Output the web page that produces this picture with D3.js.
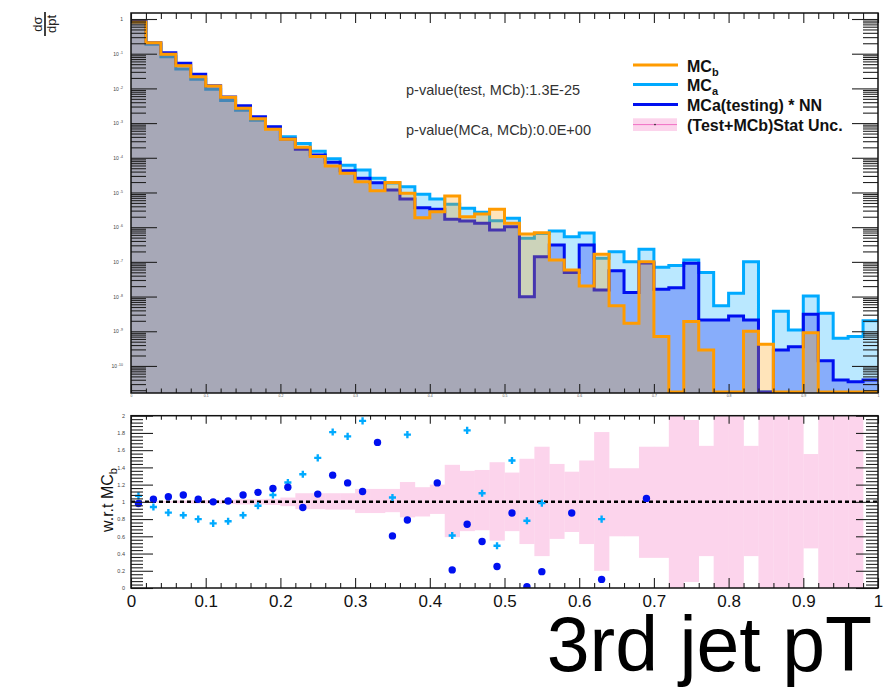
<!DOCTYPE html>
<html>
<head>
<meta charset="utf-8">
<script src="https://cdn.jsdelivr.net/npm/d3@7"></script>
<style>
  body { margin: 0; background: #fff; }
  text { font-family: "Liberation Sans", Arial, Helvetica, sans-serif; }
</style>
</head>
<body>
<div id="chart"></div>
<script>
// 50 bins of 3rd jet pT (normalised), width 0.02
const binEdges = d3.range(51).map(i => i / 50);

// dsigma/dpT per bin
const mcb = [0.82, 0.207, 0.096, 0.045, 0.0217, 0.0117, 0.00554, 0.00267, 0.00134, 6.6e-4,
  3.4e-4, 2.0e-4, 1.08e-4, 5.8e-5, 3.6e-5, 2.05e-5, 1.13e-5, 1.95e-5, 9.5e-6, 1.88e-6,
  2.8e-6, 7.9e-6, 2.0e-6, 2.4e-6, 3.3e-6, 1.29e-6, 6.4e-7, 6.9e-7, 1.13e-7, 5.8e-8,
  2.0e-8, 1.66e-7, 5.4e-9, 1.7e-9, 1.0e-7, 7.0e-10, 0, 1.9e-9, 2.9e-10, 0,
  0, 1.0e-9, 4.2e-10, 0, 0, 9.1e-10, 0, 0, 0, 0];
const mca = [0.86, 0.187, 0.082, 0.036, 0.0183, 0.0094, 0.0045, 0.00234, 0.0012, 7.6e-4,
  4.06e-4, 2.6e-4, 1.54e-4, 9.4e-5, 6.1e-5, 4.45e-5, 2.56e-5, 1.88e-5, 1.47e-5, 8.9e-6,
  6.5e-6, 4.6e-6, 3.5e-6, 2.7e-6, 1.54e-6, 1.8e-6, 4.8e-7, 6.6e-7, 7.8e-7, 5.3e-7,
  6.8e-7, 1.27e-7, 1.97e-7, 1.01e-7, 2.3e-7, 7.0e-8, 7.8e-8, 1.13e-7, 4.9e-8, 5.4e-9,
  1.24e-8, 1.0e-7, 0, 3.8e-9, 1.09e-9, 1.04e-8, 3.3e-9, 6.3e-10, 7.0e-10, 2.0e-9];
const mcaNN = [0.88, 0.207, 0.107, 0.053, 0.0255, 0.012, 0.00565, 0.00315, 0.00152, 7.9e-4,
  3.5e-4, 1.76e-4, 1.2e-4, 7.4e-5, 4.25e-5, 2.56e-5, 1.92e-5, 1.18e-5, 6.5e-6, 3.65e-6,
  3.3e-6, 1.69e-6, 1.51e-6, 1.29e-6, 8.3e-7, 1.03e-6, 9.9e-9, 1.41e-7, 3.07e-7, 4.9e-8,
  3.07e-7, 1.55e-8, 5.5e-8, 1.3e-8, 9.3e-8, 1.62e-8, 1.8e-8, 9.1e-8, 2.1e-9, 2.1e-9,
  2.76e-9, 2.1e-9, 0, 2.9e-10, 3.6e-10, 3.1e-9, 1.42e-10, 3.95e-11, 3.5e-11, 3.95e-11];

// ratios w.r.t MCb (null = outside 0..2)
const ratioNN = [0.98, 1.03, 1.06, 1.08, 1.03, 1.0, 1.01, 1.08, 1.11, 1.156,
  1.17, 0.935, 1.09, 1.31, 1.22, 1.12, 1.69, 0.605, 0.79, null,
  1.22, 0.21, 0.74, 0.54, 0.25, 0.87, 0.015, 0.19, null, 0.87,
  null, 0.10, null, null, 1.04, null, null, null, null, null,
  null, null, null, null, null, null, null, null, null, null];
const ratioMCa = [1.07, 0.94, 0.875, 0.845, 0.80, 0.75, 0.775, 0.845, 0.955, 1.08,
  1.225, 1.32, 1.51, 1.81, 1.76, 1.94, null, 1.05, 1.78, null,
  null, 0.61, 1.83, 1.10, 0.49, 1.48, 0.78, 0.985, null, null,
  null, 0.80, null, null, null, null, null, null, null, null,
  null, null, null, null, null, null, null, null, null, null];

// (Test+MCb) stat. uncertainty band, low / high edge per bin
const uncLow = [0.995, 0.99, 0.99, 0.985, 0.98, 0.98, 0.975, 0.97, 0.97, 0.965,
  0.95, 0.915, 0.915, 0.91, 0.91, 0.87, 0.87, 0.88, 0.82, 0.83,
  0.86, 0.59, 0.66, 0.67, 0.55, 0.66, 0.51, 0.37, 0.57, 0.65,
  0.51, 0.20, 0.60, 0.60, 0.35, 0.35, 0, 0.07, 0.37, 0,
  0, 0.37, 0, 0, 0, 0.46, 0, 0, 0, null];
const uncHigh = [1.005, 1.01, 1.01, 1.015, 1.02, 1.02, 1.025, 1.03, 1.03, 1.035,
  1.05, 1.10, 1.10, 1.10, 1.10, 1.15, 1.15, 1.15, 1.23, 1.17,
  1.20, 1.43, 1.36, 1.37, 1.46, 1.34, 1.50, 1.64, 1.44, 1.35,
  1.48, 1.81, 1.39, 1.39, 1.64, 1.64, 2, 1.95, 1.65, 2,
  2, 1.65, 2, 2, 2, 1.555, 2, 2, 2, null];

const xMajor = d3.range(11).map(i => i / 10);
const xMinor = d3.range(51).map(i => i / 50).filter((d, i) => i % 5 !== 0);

const width = 884, height = 687;
const L = 131, R = 878;
const T1 = 13, B1 = 393;     // upper pad
const T2 = 415.7, B2 = 588;  // ratio pad

const cOrange = "#ff9b00", cLight = "#00aaff", cBlue = "#0010f0", cPink = "#fcd4ec";

const svg = d3.select("#chart").append("svg")
  .attr("width", width).attr("height", height);

const x = d3.scaleLinear().domain([0, 1]).range([L, R]);
const y = d3.scaleLog().domain([1.66e-11, 1.49]).range([B1, T1]);
const yr = d3.scaleLinear().domain([0, 2]).range([B2, T2]);

svg.append("clipPath").attr("id", "clipTop")
  .append("rect").attr("x", L).attr("y", T1).attr("width", R - L).attr("height", B1 - T1);
svg.append("clipPath").attr("id", "clipBot")
  .append("rect").attr("x", L).attr("y", T2).attr("width", R - L).attr("height", B2 - T2);

// ---------- upper pad: histograms ----------
const hg = svg.append("g").attr("clip-path", "url(#clipTop)");

function drawHist(vals, color) {
  const pts = [];
  vals.forEach((v, i) => {
    pts.push([binEdges[i], v]);
    pts.push([binEdges[i + 1], v]);
  });
  const yv = v => v > 0 ? y(v) : B1 - 1;
  hg.append("path").datum(pts)
    .attr("d", d3.area().x(d => x(d[0])).y0(B1).y1(d => yv(d[1])))
    .attr("fill", color).attr("fill-opacity", 0.27);
  hg.append("path").datum(pts)
    .attr("d", d3.line().x(d => x(d[0])).y(d => yv(d[1])))
    .attr("fill", "none").attr("stroke", color).attr("stroke-width", 3);
}
drawHist(mca, cLight);
drawHist(mcaNN, cBlue);
drawHist(mcb, cOrange);

// axes upper pad
const logMajor = d3.range(-10, 1).map(e => Math.pow(10, e));
const logMinor = [];
for (let e = -11; e < 0; e++) {
  for (let m = 2; m < 10; m++) {
    const v = m * Math.pow(10, e);
    if (v >= 1.66e-11 && v <= 1.49) logMinor.push(v);
  }
}

function styleAxis(g) {
  g.select(".domain").remove();
  g.selectAll(".tick line").attr("stroke", "#222").attr("stroke-width", 1.1);
}

svg.append("g").attr("transform", `translate(${L},0)`)
  .call(d3.axisLeft(y).tickValues(logMajor).tickSizeInner(-26).tickSizeOuter(0).tickPadding(8).tickFormat(""))
  .call(styleAxis)
  .call(g => g.selectAll(".tick text").each(function(d) {
    const t = d3.select(this).attr("font-size", 5).attr("fill", "#444");
    const e = Math.round(Math.log10(d));
    if (e === 0) { t.text("1"); return; }
    t.append("tspan").text("10");
    t.append("tspan").attr("dy", -2).attr("font-size", 3.5).text(" " + e);
  }));
svg.append("g").attr("transform", `translate(${L},0)`)
  .call(d3.axisLeft(y).tickValues(logMinor).tickSizeInner(-15).tickSizeOuter(0).tickFormat(""))
  .call(styleAxis);
svg.append("g").attr("transform", `translate(${R},0)`)
  .call(d3.axisRight(y).tickValues(logMajor).tickSizeInner(-26).tickSizeOuter(0).tickFormat(""))
  .call(styleAxis);
svg.append("g").attr("transform", `translate(${R},0)`)
  .call(d3.axisRight(y).tickValues(logMinor).tickSizeInner(-15).tickSizeOuter(0).tickFormat(""))
  .call(styleAxis);

svg.append("g").attr("transform", `translate(0,${B1})`)
  .call(d3.axisBottom(x).tickValues(xMajor).tickSizeInner(-9).tickSizeOuter(0).tickPadding(2).tickFormat(d3.format("")))
  .call(styleAxis)
  .call(g => g.selectAll(".tick text").attr("font-size", 3.5).attr("fill", "#555"));
svg.append("g").attr("transform", `translate(0,${B1})`)
  .call(d3.axisBottom(x).tickValues(xMinor).tickSizeInner(-4.5).tickSizeOuter(0).tickFormat(""))
  .call(styleAxis);
svg.append("g").attr("transform", `translate(0,${T1})`)
  .call(d3.axisTop(x).tickValues(xMajor).tickSizeInner(-10).tickSizeOuter(0).tickFormat(""))
  .call(styleAxis);
svg.append("g").attr("transform", `translate(0,${T1})`)
  .call(d3.axisTop(x).tickValues(xMinor).tickSizeInner(-6).tickSizeOuter(0).tickFormat(""))
  .call(styleAxis);

svg.append("rect").attr("x", L).attr("y", T1).attr("width", R - L).attr("height", B1 - T1)
  .attr("fill", "none").attr("stroke", "#111").attr("stroke-width", 1.5);

// y title  d sigma / d pT
const yt = svg.append("g").attr("transform", "translate(45,24) rotate(-90)");
yt.append("text").attr("x", 0).attr("y", -3.5).attr("text-anchor", "middle")
  .attr("font-size", 13).attr("fill", "#222").text("dσ");
yt.append("line").attr("x1", -12).attr("x2", 12).attr("y1", 0).attr("y2", 0)
  .attr("stroke", "#111").attr("stroke-width", 1.6);
yt.append("text").attr("x", 0).attr("y", 11).attr("text-anchor", "middle")
  .attr("font-size", 13).attr("fill", "#222").text("dpt");

// p-values
svg.append("text").attr("x", 406).attr("y", 94.5).attr("font-size", 14.5).attr("fill", "#333")
  .text("p-value(test, MCb):1.3E-25");
svg.append("text").attr("x", 406).attr("y", 135).attr("font-size", 14.5).attr("fill", "#333")
  .text("p-value(MCa, MCb):0.0E+00");

// legend
const lg = svg.append("g");
const legendRows = [
  { y: 65, color: cOrange, main: "MC", sub: "b" },
  { y: 84.5, color: cLight, main: "MC", sub: "a" },
  { y: 104.5, color: cBlue, main: "MCa(testing) * NN", sub: null }
];
legendRows.forEach(r => {
  lg.append("line").attr("x1", 633).attr("x2", 678).attr("y1", r.y).attr("y2", r.y)
    .attr("stroke", r.color).attr("stroke-width", 3);
  const t = lg.append("text").attr("x", 687).attr("y", r.y + 6.5)
    .attr("font-size", 16).attr("font-weight", "bold").attr("fill", "#111").text(r.main);
  if (r.sub) t.append("tspan").attr("dy", 4).attr("font-size", 11).text(r.sub);
});
lg.append("rect").attr("x", 633).attr("y", 118.3).attr("width", 44).attr("height", 12.7)
  .attr("fill", cPink);
lg.append("line").attr("x1", 633).attr("x2", 677).attr("y1", 124.6).attr("y2", 124.6)
  .attr("stroke", "#f070c4").attr("stroke-width", 1);
lg.append("circle").attr("cx", 655).attr("cy", 124.6).attr("r", 0.8).attr("fill", "#222");
lg.append("text").attr("x", 687).attr("y", 130.5)
  .attr("font-size", 16).attr("font-weight", "bold").attr("fill", "#111").text("(Test+MCb)Stat Unc.");

// ---------- lower pad: ratio ----------
const rg = svg.append("g").attr("clip-path", "url(#clipBot)");

const bandBins = d3.range(50).filter(i => uncLow[i] !== null);
rg.selectAll(".band").data(bandBins).enter().append("rect")
  .attr("class", "band")
  .attr("x", i => x(binEdges[i]))
  .attr("width", i => x(binEdges[i + 1]) - x(binEdges[i]) + 0.3)
  .attr("y", i => uncHigh[i] >= 2 ? T2 - 2 : yr(uncHigh[i]))
  .attr("height", i => (uncLow[i] <= 0 ? B2 + 2 : yr(uncLow[i])) - (uncHigh[i] >= 2 ? T2 - 2 : yr(uncHigh[i])))
  .attr("fill", cPink);

rg.append("line").attr("x1", L).attr("x2", R).attr("y1", yr(1)).attr("y2", yr(1))
  .attr("stroke", "#000").attr("stroke-width", 2.5).attr("stroke-dasharray", "4,3");

const centers = d3.range(50).map(i => (binEdges[i] + binEdges[i + 1]) / 2);

rg.selectAll(".pa").data(d3.range(50).filter(i => ratioMCa[i] !== null)).enter()
  .append("path").attr("class", "pa")
  .attr("transform", i => `translate(${x(centers[i])},${yr(ratioMCa[i])})`)
  .attr("d", d3.symbol(d3.symbolCross, 28))
  .attr("fill", cLight);

rg.selectAll(".pn").data(d3.range(50).filter(i => ratioNN[i] !== null)).enter()
  .append("circle").attr("class", "pn")
  .attr("cx", i => x(centers[i])).attr("cy", i => yr(ratioNN[i])).attr("r", 3.7)
  .attr("fill", cBlue);

const rMajor = d3.range(11).map(i => i / 5);
const rMinor = d3.range(51).map(i => i / 25).filter((d, i) => i % 5 !== 0);

svg.append("g").attr("transform", `translate(${L},0)`)
  .call(d3.axisLeft(yr).tickValues(rMajor).tickSizeInner(-22).tickSizeOuter(0).tickPadding(6).tickFormat(d3.format("")))
  .call(styleAxis)
  .call(g => g.selectAll(".tick text").attr("font-size", 5.5).attr("fill", "#444"));
svg.append("g").attr("transform", `translate(${L},0)`)
  .call(d3.axisLeft(yr).tickValues(rMinor).tickSizeInner(-12).tickSizeOuter(0).tickFormat(""))
  .call(styleAxis);
svg.append("g").attr("transform", `translate(${R},0)`)
  .call(d3.axisRight(yr).tickValues(rMajor).tickSizeInner(-22).tickSizeOuter(0).tickFormat(""))
  .call(styleAxis);
svg.append("g").attr("transform", `translate(${R},0)`)
  .call(d3.axisRight(yr).tickValues(rMinor).tickSizeInner(-12).tickSizeOuter(0).tickFormat(""))
  .call(styleAxis);

svg.append("g").attr("transform", `translate(0,${B2})`)
  .call(d3.axisBottom(x).tickValues(xMajor).tickSizeInner(-10).tickSizeOuter(0).tickPadding(7).tickFormat(d3.format("")))
  .call(styleAxis)
  .call(g => g.selectAll(".tick text").attr("font-size", 17).attr("fill", "#111"));
svg.append("g").attr("transform", `translate(0,${B2})`)
  .call(d3.axisBottom(x).tickValues(xMinor).tickSizeInner(-5).tickSizeOuter(0).tickFormat(""))
  .call(styleAxis);
svg.append("g").attr("transform", `translate(0,${T2})`)
  .call(d3.axisTop(x).tickValues(xMajor).tickSizeInner(-8).tickSizeOuter(0).tickFormat(""))
  .call(styleAxis);
svg.append("g").attr("transform", `translate(0,${T2})`)
  .call(d3.axisTop(x).tickValues(xMinor).tickSizeInner(-4).tickSizeOuter(0).tickFormat(""))
  .call(styleAxis);

svg.append("rect").attr("x", L).attr("y", T2).attr("width", R - L).attr("height", B2 - T2)
  .attr("fill", "none").attr("stroke", "#111").attr("stroke-width", 1.5);

// ratio y title
const rt = svg.append("text").attr("transform", "translate(113,500) rotate(-90)")
  .attr("text-anchor", "middle").attr("font-size", 16).attr("fill", "#111").text("w.r.t MC");
rt.append("tspan").attr("dy", 4).attr("font-size", 11).text("b");

// big x title
svg.append("text").attr("x", 872).attr("y", 671).attr("text-anchor", "end")
  .attr("font-size", 77).attr("fill", "#000").text("3rd jet pT");
</script>
</body>
</html>
